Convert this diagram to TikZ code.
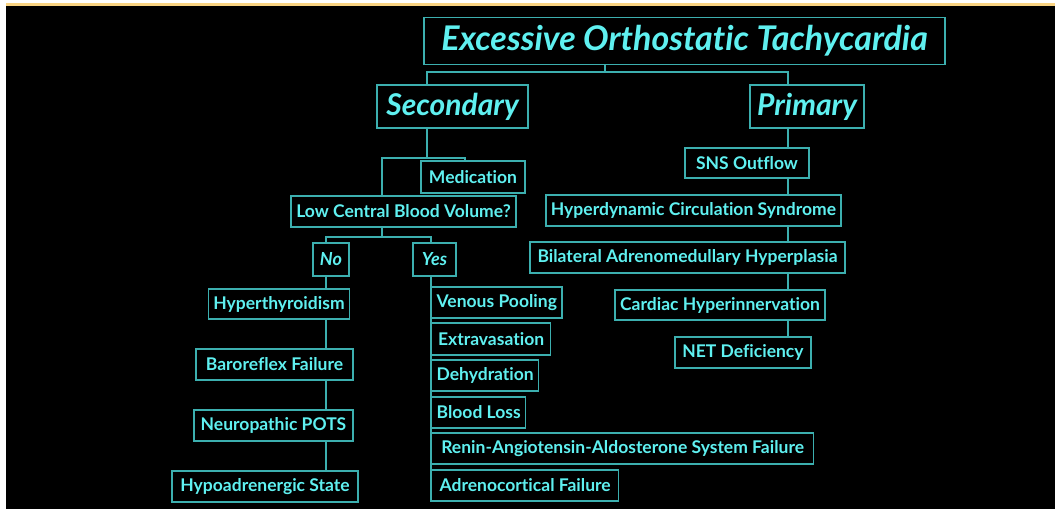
\documentclass[tikz,border=0pt]{standalone}
\usepackage{fontspec}
\setmainfont{Lato}[Ligatures=CommonOff]
\usetikzlibrary{positioning}
\definecolor{boxtext}{RGB}{95,240,240}
\definecolor{boxline}{RGB}{60,175,175}
\definecolor{strip}{RGB}{250,212,130}

\begin{document}
\begin{tikzpicture}[x=1pt,y=-1pt,
  cause/.style={draw=boxline,fill=black,text=boxtext,line width=1.3pt,inner xsep=5pt,inner ysep=0pt,minimum height=31pt,font=\fontsize{17.5}{20}\selectfont\bfseries},
  branch/.style={cause,font=\fontsize{30}{34}\selectfont\bfseries\itshape},
  answer/.style={cause,font=\fontsize{18}{20}\selectfont\bfseries\itshape},
  link/.style={boxline,line width=1.3pt}]

\fill[white] (0,0) rectangle (1055,509);
\fill[strip] (6,3) rectangle (1055,6);
\fill[black] (6,6) rectangle (1055,509);

\node[cause,minimum width=521pt,minimum height=47pt,font=\fontsize{34}{38}\selectfont\bfseries\itshape] (title) at (684.5,41) {Excessive Orthostatic Tachycardia};
\node[branch,minimum width=151pt,minimum height=43pt] (sec) at (452.5,106.5) {Secondary};
\node[branch,minimum width=114pt,minimum height=43pt] (pri) at (807,106.5) {Primary};

\node[cause,minimum width=104pt,minimum height=32pt] (med) at (473,177) {Medication};
\node[cause,minimum width=225pt] (lcbv) at (403.5,211.5) {Low Central Blood Volume?};
\node[answer,minimum width=36pt,minimum height=33pt] (no) at (331,259.5) {No};
\node[answer,minimum width=43pt,minimum height=33pt] (yes) at (434.5,259.5) {Yes};

\node[cause,minimum width=140pt,minimum height=30pt] (hyper) at (279,304) {Hyperthyroidism};
\node[cause,minimum width=157pt] (baro) at (274.5,364.5) {Baroreflex Failure};
\node[cause,minimum width=159pt] (neuro) at (273.5,425.5) {Neuropathic POTS};
\node[cause,minimum width=186pt] (hypoad) at (265,486.5) {Hypoadrenergic State};

\node[cause,anchor=west,minimum width=125pt] (venous) at (431,302.5) {Venous Pooling};
\node[cause,anchor=west,minimum width=119pt,minimum height=32pt] (extrav) at (431,339) {Extravasation};
\node[cause,anchor=west,minimum width=107pt] (dehyd) at (431,375.5) {Dehydration};
\node[cause,anchor=west,minimum width=93pt] (blood) at (431,412.5) {Blood Loss};
\node[cause,anchor=west,minimum width=382pt] (raas) at (431,448.5) {Renin-Angiotensin-Aldosterone System Failure};
\node[cause,anchor=west,minimum width=187pt] (adreno) at (431,485.5) {Adrenocortical Failure};

\node[cause,minimum width=124pt,minimum height=30pt] (sns) at (747,163) {SNS Outflow};
\node[cause,minimum width=295pt] (hcs) at (693.5,210.5) {Hyperdynamic Circulation Syndrome};
\node[cause,minimum width=315pt] (bah) at (687.5,257.5) {Bilateral Adrenomedullary Hyperplasia};
\node[cause,minimum width=210pt,minimum height=30pt] (ch) at (720,305) {Cardiac Hyperinnervation};
\node[cause,minimum width=136pt] (net) at (743,352.5) {NET Deficiency};

\coordinate (topfork) at (605,72);
\coordinate (secstem) at (427,72);
\coordinate (pristem) at (788,72);
\draw[link] (title.south -| topfork) -- (topfork);
\draw[link] (secstem |- sec.north) -- (secstem) -- (pristem) -- (pristem |- pri.north);

\coordinate (secfork) at (427,158);
\coordinate (lowfork) at (382,158);
\coordinate (medfork) at (465,158);
\draw[link] (sec.south -| secfork) -- (secfork);
\draw[link] (lowfork |- lcbv.north) -- (lowfork) -- (medfork) -- (medfork |- med.north);

\coordinate (lcbvfork) at (382,237);
\coordinate (nofork) at (326,237);
\coordinate (yesfork) at (431,237);
\draw[link] (lcbv.south -| lcbvfork) -- (lcbvfork);
\draw[link] (nofork |- no.north) -- (nofork) -- (yesfork) -- (yesfork |- yes.north);

\foreach \a/\b in {no/hyper, hyper/baro, baro/neuro, neuro/hypoad}
  \draw[link] (nofork |- \a.south) -- (nofork |- \b.north);

\draw[link] (yesfork |- yes.south) -- (adreno.south west);

\foreach \a/\b in {pri/sns, sns/hcs, hcs/bah, bah/ch, ch/net}
  \draw[link] (pristem |- \a.south) -- (pristem |- \b.north);

\end{tikzpicture}
\end{document}
